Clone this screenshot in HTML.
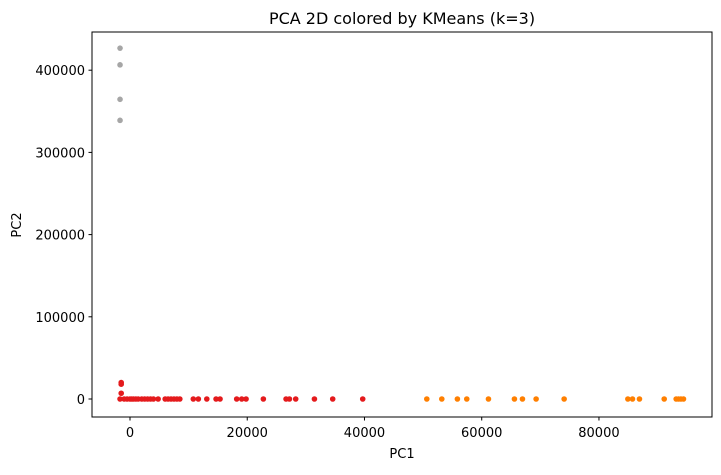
<!DOCTYPE html>
<html><head><meta charset="utf-8"><style>
body{margin:0;background:#fff;}
svg text{font-family:"DejaVu Sans","Liberation Sans",sans-serif;fill:#000;}
</style></head><body>
<svg id="chart" width="721" height="470" viewBox="0 0 721 470" xmlns="http://www.w3.org/2000/svg">
<text x="402" y="24" text-anchor="middle" font-size="16">PCA 2D colored by KMeans (k=3)</text>
<g id="axes"></g>
<g id="points"></g>
<rect x="92" y="32" width="620" height="385" fill="none" stroke="#000" stroke-width="1"/>
<text x="402" y="458" text-anchor="middle" font-size="13">PC1</text>
<text transform="translate(21,225) rotate(-90)" text-anchor="middle" font-size="13">PC2</text>
</svg>
<script>
const xTicks = [0, 20000, 40000, 60000, 80000];
const yTicks = [0, 100000, 200000, 300000, 400000];
const cluster0X = [-1700,-1000,-500,0,300,600,1000,1400,2000,2500,3000,3500,4000,4800,6000,6500,7000,7500,8000,8500,10800,11660,13100,14680,15360,18200,19060,19800,22750,26620,27200,28270,31460,34580,39700,-1500,-1500,-1500];
const cluster0Y = [0,0,0,0,0,0,0,0,0,0,0,0,0,0,0,0,0,0,0,0,0,0,0,0,0,0,0,0,0,0,0,0,0,0,0,20000,18000,7000];
const cluster1X = [50630,53190,55850,57450,61150,65580,66950,69280,74060,84930,85720,86910,91130,93170,93570,93980,94420];
const cluster1Y = [0,0,0,0,0,0,0,0,0,0,0,0,0,0,0,0,0];
const cluster2X = [-1700,-1700,-1700,-1700];
const cluster2Y = [426800,406500,364600,339000];

const NS = "http://www.w3.org/2000/svg";
function sx(v){ return 130 + v * 0.005862; }
function sy(v){ return 399 - v * 0.000822; }
const axes = document.getElementById('axes');
const pts = document.getElementById('points');
xTicks.forEach(t => {
  const l = document.createElementNS(NS,'line');
  
  
  l.setAttribute('x1',sx(t)); l.setAttribute('x2',sx(t));
  l.setAttribute('y1',417); l.setAttribute('y2',420.5);
  l.setAttribute('stroke','#000');
  axes.appendChild(l);
  const tx = document.createElementNS(NS,'text');
  
  
  tx.setAttribute('x',sx(t)); tx.setAttribute('y',437);
  tx.setAttribute('text-anchor','middle'); tx.setAttribute('font-size','13');
  tx.textContent = t;
  axes.appendChild(tx);
});
yTicks.forEach(t => {
  const l = document.createElementNS(NS,'line');
  
  
  l.setAttribute('x1',88.5); l.setAttribute('x2',92);
  l.setAttribute('y1',sy(t)); l.setAttribute('y2',sy(t));
  l.setAttribute('stroke','#000');
  axes.appendChild(l);
  const tx = document.createElementNS(NS,'text');
  
  
  tx.setAttribute('x',85); tx.setAttribute('y',sy(t)+5);
  tx.setAttribute('text-anchor','end'); tx.setAttribute('font-size','13');
  tx.textContent = t;
  axes.appendChild(tx);
});
function draw(xs, ys, color, name){
  xs.forEach((x,i) => {
    const c = document.createElementNS(NS,'circle');
    
    
    c.setAttribute('cx',sx(x)); c.setAttribute('cy',sy(ys[i]));
    c.setAttribute('r',2.8); c.setAttribute('fill',color);
    pts.appendChild(c);
  });
}
draw(cluster0X, cluster0Y, '#e41a1c', 'cluster-0-point');
draw(cluster1X, cluster1Y, '#ff7f00', 'cluster-1-point');
draw(cluster2X, cluster2Y, '#a6a6a6', 'cluster-2-point');
</script>
</body></html>
